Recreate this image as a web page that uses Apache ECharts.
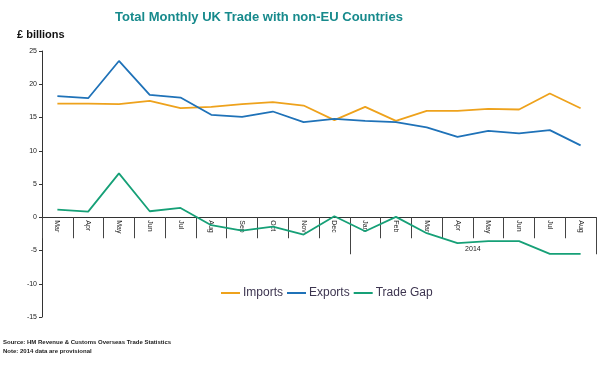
<!DOCTYPE html>
<html><head><meta charset="utf-8">
<script src="https://cdn.jsdelivr.net/npm/echarts@6/dist/echarts.min.js"></script>
<style>html,body{margin:0;padding:0;background:#fff}#c{width:600px;height:366px}</style>
</head><body><div id="c"></div>
<script>
var months = ['Mar','Apr','May','Jun','Jul','Aug','Sep','Oct','Nov','Dec','Jan','Feb','Mar','Apr','May','Jun','Jul','Aug'];
var imports = [17.1,17.1,17.0,17.5,16.4,16.6,17.0,17.3,16.8,14.6,16.6,14.5,16.0,16.0,16.3,16.2,18.6,16.4];
var exports = [18.2,17.9,23.5,18.4,18.0,15.4,15.1,15.9,14.3,14.8,14.5,14.3,13.5,12.1,13.0,12.6,13.1,10.8];
var tradeGap = [1.15,0.85,6.6,0.9,1.4,-1.2,-2.0,-1.4,-2.6,0.15,-2.1,0.05,-2.4,-3.9,-3.6,-3.6,-5.5,-5.5];
var yearLabel = '2014';
var yearStart = 10, yearEnd = 18, yearMid = 14;
var yTicks = {min: -15, max: 25, interval: 5};

var gridTop = 51, gridBottom = 49, chartH = 366;
var plotH = chartH - gridTop - gridBottom;
var zeroOffset = -plotH * (0 - yTicks.min) / (yTicks.max - yTicks.min);

var chart = echarts.init(document.getElementById('c'));
var font = 'Liberation Sans, Arial, sans-serif';
chart.setOption({
  animation: false,
  textStyle: {fontFamily: font},
  title: [{
    text: 'Total Monthly UK Trade with non-EU Countries',
    left: 110, top: 6,
    textStyle: {color: '#178a8c', fontSize: 13, fontWeight: 'bold', fontFamily: font}
  }, {
    text: '£ billions', left: 12, top: 24,
    textStyle: {color: '#111', fontSize: 11, fontWeight: 'bold', fontFamily: font}
  }, {
    text: 'Source: HM Revenue & Customs Overseas Trade Statistics\nNote: 2014 data are provisional',
    left: -2, top: 333,
    textStyle: {color: '#222', fontSize: 6, fontWeight: 'bold', lineHeight: 9, fontFamily: font}
  }],
  legend: {
    left: 216, top: 282,
    icon: 'rect', itemWidth: 19, itemHeight: 2, itemGap: 4,
    textStyle: {fontSize: 12, color: '#3d3550', fontFamily: font, padding: [0,0,0,-2]},
    data: ['Imports', 'Exports', 'Trade Gap']
  },
  grid: {left: 42, right: 4, top: gridTop, bottom: gridBottom, containLabel: false},
  xAxis: [{
    type: 'category', data: months, position: 'bottom', offset: zeroOffset,
    axisLine: {onZero: false, lineStyle: {color: '#333', width: 1}},
    axisTick: {show: true, length: 21, lineStyle: {color: '#444'}},
    axisLabel: {rotate: -90, fontSize: 7, color: '#222', margin: 3, interval: 0}
  }, {
    type: 'value', min: 0, max: 18, position: 'bottom', offset: zeroOffset,
    axisLine: {show: false, onZero: false},
    splitLine: {show: false},
    axisTick: {show: true, length: 37, customValues: [yearStart, yearEnd], lineStyle: {color: '#444'}},
    axisLabel: {customValues: [yearMid], formatter: function(){return yearLabel;}, fontSize: 7, color: '#222', margin: 28}
  }],
  yAxis: {
    type: 'value', min: yTicks.min, max: yTicks.max, interval: yTicks.interval,
    axisLine: {show: true, lineStyle: {color: '#333'}},
    axisTick: {show: true, length: 3, lineStyle: {color: '#333'}},
    axisLabel: {fontSize: 7, color: '#222', margin: 5},
    splitLine: {show: false}
  },
  series: [
    {name: 'Imports', type: 'line', data: imports, showSymbol: false, symbol: 'none', lineStyle: {color: '#eea21c', width: 1.8}, itemStyle: {color: '#eea21c'}},
    {name: 'Exports', type: 'line', data: exports, showSymbol: false, symbol: 'none', lineStyle: {color: '#1f72b8', width: 1.8}, itemStyle: {color: '#1f72b8'}},
    {name: 'Trade Gap', type: 'line', data: tradeGap, showSymbol: false, symbol: 'none', lineStyle: {color: '#16a077', width: 1.8}, itemStyle: {color: '#16a077'}}
  ]
});
</script></body></html>
